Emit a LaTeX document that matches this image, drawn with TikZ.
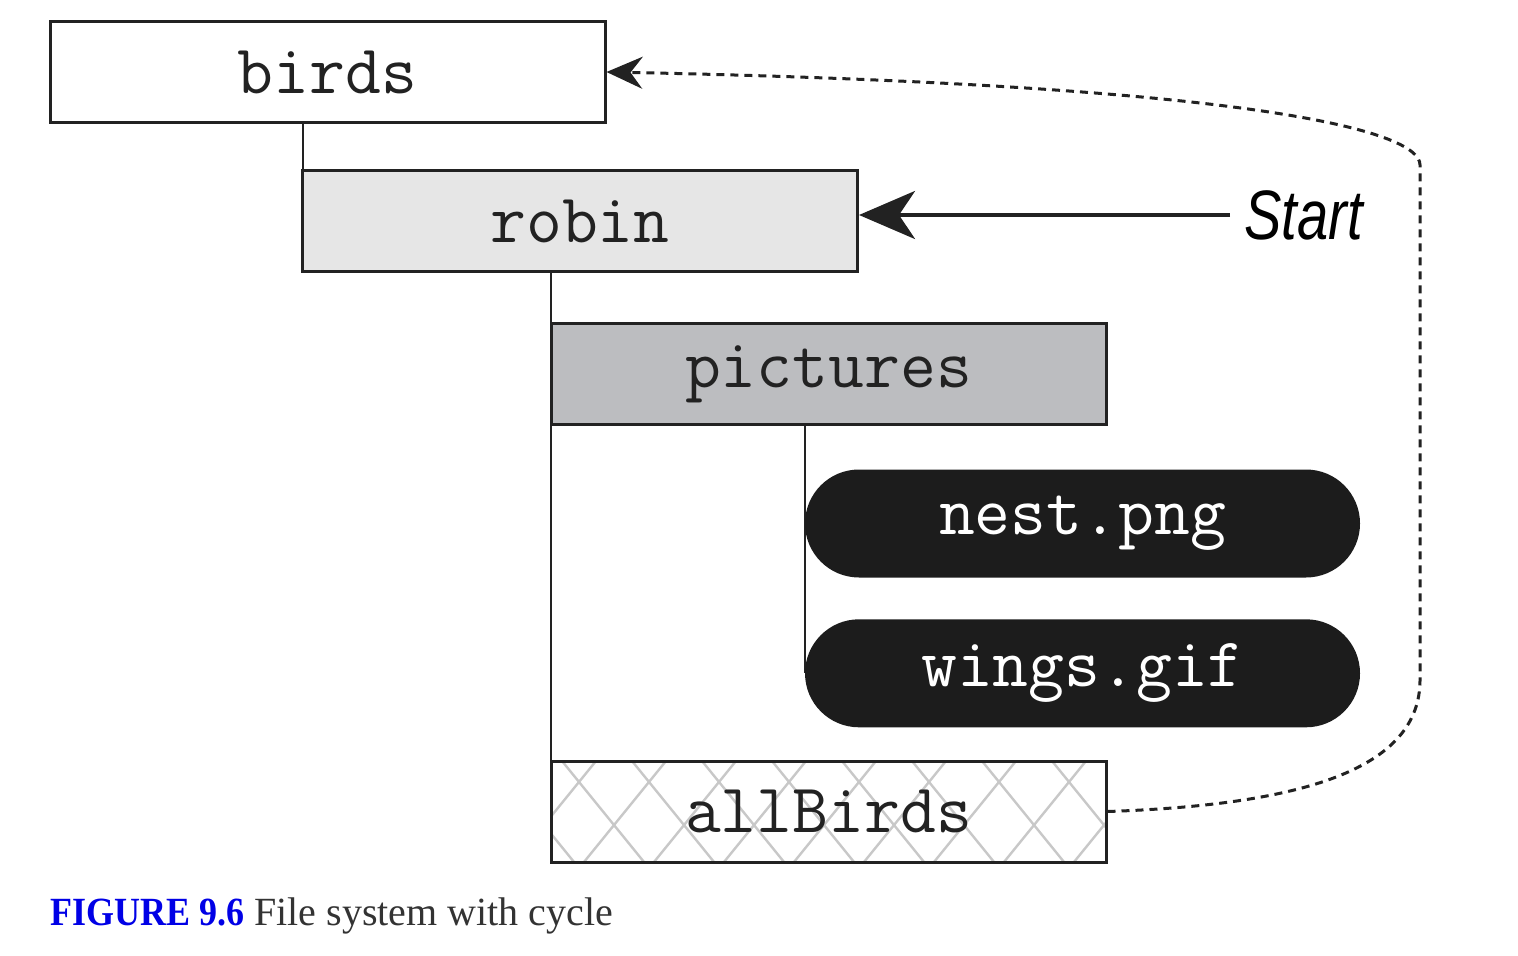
\documentclass[tikz,border=0pt]{standalone}
\usepackage{fontspec}
\usepackage{graphicx}
\newfontfamily\startfont[FakeStretch=0.8]{Liberation Sans}
\newfontfamily\captionfont{Liberation Serif}
\usepackage{tikz}
\usetikzlibrary{arrows.meta,positioning}
\definecolor{dirline}{HTML}{222222}
\definecolor{robinfill}{HTML}{E6E6E6}
\definecolor{picfill}{HTML}{BCBDC0}
\definecolor{pillfill}{HTML}{1C1C1C}
\definecolor{hatchgray}{HTML}{C8C8C8}
\definecolor{capblue}{HTML}{0000E6}
\definecolor{captext}{HTML}{333333}
\tikzset{
  dir-box/.style={draw=dirline, line width=1.5pt, minimum width=277.5pt, minimum height=50.5pt,
    inner sep=0pt, text=dirline, font=\ttfamily\fontsize{34.8}{34.8}\selectfont},
  file-pill/.style={fill=pillfill, rounded corners=27pt, minimum width=277.5pt, minimum height=54pt,
    inner sep=0pt, text=white, font=\ttfamily\fontsize{34.8}{34.8}\selectfont},
  tree-line/.style={draw=dirline, line width=1.1pt},
  cycle-link/.style={draw=dirline, line width=1.5pt, dash pattern=on 4pt off 3pt,
    -{Stealth[length=18pt, width=16pt, inset=6pt]}}
}

\begin{document}
\begin{tikzpicture}[x=0.5pt, y=-0.5pt]
  \useasboundingbox (0,0) rectangle (1518,956);
  % tree lines first, boxes on top
  \coordinate (birdsfoot) at (303,123);
  \coordinate (robinfoot) at (551,271);
  \coordinate (picfoot) at (805,425);
  \draw[tree-line] (birdsfoot) -- (303,171);
  \draw[tree-line] (robinfoot) -- (551,761);
  \draw[tree-line] (picfoot) -- (805,673);

  \node[dir-box, fill=white] (birds) at (327.5,72) {birds};
  \node[dir-box, fill=robinfill] (robin) at (580,221) {robin};
  \node[dir-box, fill=picfill] (pictures) at (828.5,374.5) {pictures};
  \node[file-pill] (nest) at (1082.5,523.5) {nest.png};
  \node[file-pill, below=20.5pt of nest] (wings) {wings.gif};

  % cross-hatched link box
  \begin{scope}
    \clip (551,761) rectangle (1106,862);
    \foreach \k in {-3,...,9} {
      \draw[hatchgray, line width=1.2pt] (562+70*\k,761) -- ++(82,101);
      \draw[hatchgray, line width=1.2pt] (596+70*\k,761) -- ++(-82,101);
    }
  \end{scope}
  \node[dir-box] (allBirds) at (828.5,811.5) {allBirds};

  \node[anchor=west, inner xsep=7pt, inner ysep=0pt, font=\startfont\itshape\fontsize{35}{35}\selectfont]
    (start) at (1230,215) {Start};
  \coordinate (robinin) at ([yshift=3pt]robin.east);
  \draw[-{Stealth[length=28pt, width=24pt, inset=8pt]}, line width=2pt, draw=dirline]
    (start.west |- robinin) -- (robinin);

  \draw[cycle-link] (allBirds.east) .. controls (1300,805) and (1420,770) .. (1420,680)
    -- (1420,165) .. controls (1420,130) and (1250,85) .. (birds.east);

  \node[anchor=base west, inner sep=0pt, font=\captionfont\fontsize{20}{20}\selectfont, text=captext]
    (caption) at (50,925) {\textcolor{capblue}{\bfseries\scalebox{0.9}[1]{FIGURE 9.6}} File system with cycle};
\end{tikzpicture}
\end{document}
